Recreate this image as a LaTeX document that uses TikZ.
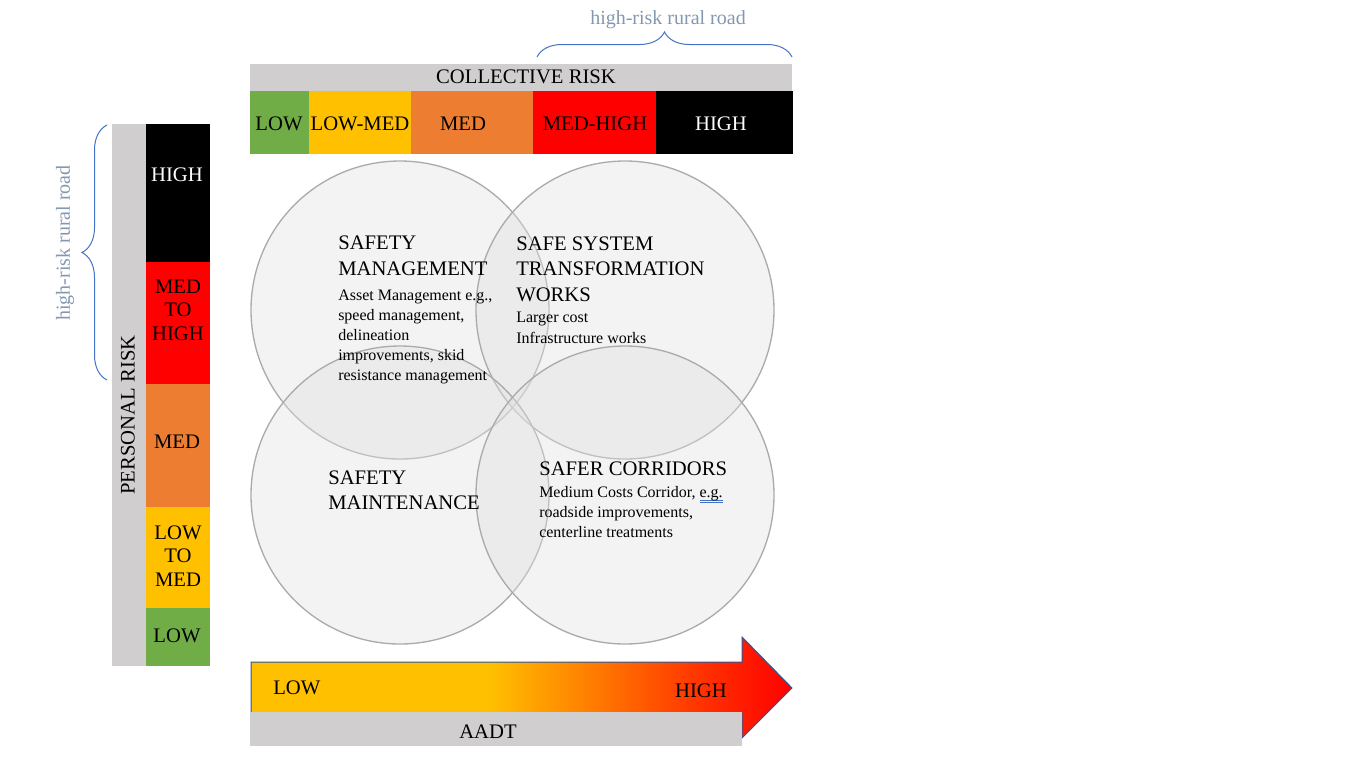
\documentclass[tikz,border=0pt]{standalone}
\usepackage{fontspec}
\setmainfont{Liberation Serif}
\usetikzlibrary{decorations.pathreplacing}
\definecolor{cgreen}{HTML}{70AD47}
\definecolor{cyellow}{HTML}{FFC000}
\definecolor{corange}{HTML}{ED7D31}
\definecolor{cred}{HTML}{FF0000}
\definecolor{cgray}{HTML}{D0CECE}
\definecolor{labelgray}{HTML}{8497B0}
\definecolor{braceblue}{HTML}{4472C4}
\definecolor{arrowblue}{HTML}{2F5597}
\definecolor{circline}{HTML}{ABABAB}
\definecolor{circfill}{HTML}{E0E0E0}
\definecolor{ulblue}{HTML}{4472C4}
\definecolor{aorange}{HTML}{FF8000}
\definecolor{ared}{HTML}{FF3000}
\pgfdeclarehorizontalshading{aadt}{100bp}{color(0bp)=(cyellow); color(25bp)=(cyellow); color(47bp)=(cyellow); color(56bp)=(aorange); color(67bp)=(ared); color(75bp)=(cred); color(100bp)=(cred)}
\newcommand\spellul[1]{\setbox0\hbox{#1}\rlap{\color{ulblue}\rule[-2.2pt]{\wd0}{0.4pt}\hskip-\wd0\rule[-3.6pt]{\wd0}{0.4pt}}\box0}
\begin{document}
\begin{tikzpicture}[x=0.75pt,y=-0.75pt,
  capl/.style={font=\fontsize{15.5}{17.6}\selectfont, inner sep=0, align=center},
  head/.style={font=\fontsize{15.5}{18.9}\selectfont, inner sep=0, anchor=base west, align=left},
  bodyt/.style={font=\fontsize{12}{15}\selectfont, inner sep=0, anchor=base west, align=left},
  risklabel/.style={text=labelgray, font=\fontsize{15}{18}\selectfont, inner sep=0},
  bracedec/.style={draw=braceblue, line width=0.75pt, decorate, decoration={brace, amplitude=18.75pt}},
  circ/.style={circle, draw=circline, line width=1pt, fill=circfill, fill opacity=0.4, draw opacity=1, minimum size=223.5pt, inner sep=0}
]
\useasboundingbox (0,0) rectangle (1368,769);

% top brace and label
\coordinate (tb1) at (537,57);
\coordinate (tb2) at (792,57);
\draw[bracedec] (tb1) -- (tb2);
\node[risklabel] (toplabel) at (668,20) {high-risk rural road};

% collective risk bar
\fill[cgray] (250,64) rectangle (792,91);
\node[capl] (coll) at (526,77) {COLLECTIVE RISK};
\fill[cgreen] (250,91) rectangle (309,154);
\fill[cyellow] (309,91) rectangle (411,154);
\fill[corange] (411,91) rectangle (533,154);
\fill[cred] (533,91) rectangle (656,154);
\fill[black] (656,91) rectangle (793,154);
\node[capl] (cLow) at (279,124) {LOW};
\node[capl] (cLowMed) at (360,124) {LOW-MED};
\node[capl] (cMed) at (463,124) {MED};
\node[capl] (cMedHigh) at (595,124) {MED-HIGH};
\node[capl, text=white] (cHigh) at (721,124) {HIGH};

% left brace and label
\coordinate (lb1) at (107,380);
\coordinate (lb2) at (107,125);
\draw[bracedec] (lb1) -- (lb2);
\node[risklabel, rotate=90] (leftlabel) at (65,243) {high-risk rural road};

% personal risk column
\fill[cgray] (112,124) rectangle (146,666);
\node[capl, rotate=90] (pers) at (128,415) {PERSONAL RISK};
\fill[black] (146,124) rectangle (210,262);
\fill[cred] (146,262) rectangle (210,384);
\fill[corange] (146,384) rectangle (210,507);
\fill[cyellow] (146,507) rectangle (210,608);
\fill[cgreen] (146,608) rectangle (210,666);
\node[capl, text=white] (pHigh) at (177,175) {HIGH};
\node[capl] (pMedHigh) at (178,310) {MED\\TO\\HIGH};
\node[capl] (pMed) at (177,442) {MED};
\node[capl] (pLowMed) at (178,556) {LOW\\TO\\MED};
\node[capl] (pLow) at (177,636) {LOW};

% circles
\node[circ] (c1) at (400,310) {};
\node[circ] (c2) at (625,310) {};
\node[circ] (c3) at (400,495) {};
\node[circ] (c4) at (625,495) {};

% multi-line nodes: base anchor = baseline of the last line
\node[head] (t1) at (338,275) {SAFETY\\MANAGEMENT};
\node[bodyt] (b1) at (338,380) {Asset Management e.g.,\\speed management,\\delineation\\improvements, skid\\resistance management};
\node[head, font=\fontsize{15.5}{19.1}\selectfont] (t2) at (516,301) {SAFE SYSTEM\\TRANSFORMATION\\WORKS};
\node[bodyt, font=\fontsize{12}{15.6}\selectfont] (b2) at (516,343) {Larger cost\\Infrastructure works};
\node[head, font=\fontsize{15.5}{18.75}\selectfont] (t3) at (328,509) {SAFETY\\MAINTENANCE};
\node[head] (t4) at (539,475) {SAFER CORRIDORS};
\node[bodyt, font=\fontsize{12}{14.8}\selectfont] (b4) at (539,537) {Medium Costs Corridor, \spellul{e.g.}\\roadside improvements,\\centerline treatments};

% AADT arrow
\shadedraw[shading=aadt, draw=arrowblue, line width=0.75pt]
  (251,662) -- (742,662) -- (742,637) -- (792,688) -- (742,738) -- (742,713) -- (251,713) -- cycle;
\fill[cgray] (250,712) rectangle (742,746);
\node[capl, anchor=base west] (aLow) at (273,694) {LOW};
\node[capl, anchor=base] (aHigh) at (701,697) {HIGH};
\node[capl] (aadt) at (488,732) {AADT};
\end{tikzpicture}
\end{document}
